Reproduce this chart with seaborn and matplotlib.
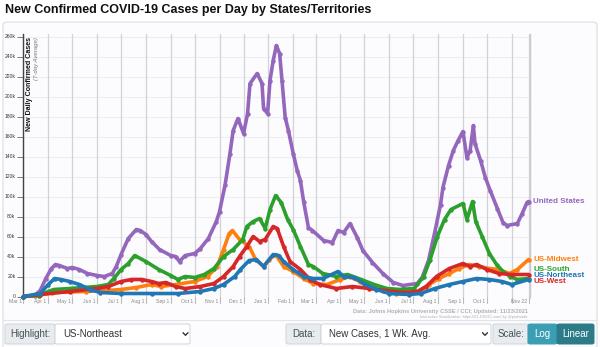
import matplotlib
matplotlib.use('Agg')
import matplotlib.pyplot as plt
import seaborn as sns
import pandas as pd
import numpy as np
from matplotlib.patches import FancyBboxPatch
from matplotlib.lines import Line2D
import matplotlib.transforms as mtrans

sns.set_theme(style='white')
plt.rcParams['font.family'] = ['Liberation Sans', 'DejaVu Sans']

# ---------------- data (7-day avg new cases, thousands) ----------------
us_dates = ["2020-03-01","2020-03-15","2020-03-22","2020-03-29","2020-04-05","2020-04-10","2020-04-15",
    "2020-04-25","2020-05-01","2020-05-10","2020-05-20","2020-06-01","2020-06-10","2020-06-20","2020-06-25",
    "2020-07-01","2020-07-10","2020-07-20","2020-07-25","2020-08-01","2020-08-08","2020-08-18","2020-09-01",
    "2020-09-07","2020-09-12","2020-09-19","2020-10-01","2020-10-08","2020-10-18","2020-10-28","2020-11-01",
    "2020-11-08","2020-11-14","2020-11-18","2020-11-24","2020-12-01","2020-12-06","2020-12-09","2020-12-18",
    "2020-12-24","2020-12-26","2020-12-31","2021-01-03","2021-01-07","2021-01-11","2021-01-15","2021-01-18",
    "2021-01-22","2021-01-26","2021-02-01","2021-02-06","2021-02-10","2021-02-14","2021-02-20","2021-02-25",
    "2021-03-11","2021-03-22","2021-03-29","2021-04-05","2021-04-13","2021-04-22","2021-04-29","2021-05-11",
    "2021-05-24","2021-06-06","2021-06-18","2021-07-06","2021-07-12","2021-07-20","2021-07-28","2021-08-04",
    "2021-08-07","2021-08-14","2021-08-20","2021-08-26","2021-09-01","2021-09-06","2021-09-10","2021-09-14",
    "2021-09-16","2021-09-23","2021-09-29","2021-10-05","2021-10-14","2021-10-21","2021-10-26","2021-11-08",
    "2021-11-14","2021-11-20","2021-11-22"]
us_vals = [0,1,6,18,28,32,31,28,29,27,23,21,20,23,30,42,58,67,66,62,55,47,41,40,35,41,43,48,58,75,85,
    112,143,166,178,163,183,213,223,213,188,183,216,236,251,243,216,179,166,143,126,116,95,69,66,
    56,54,66,64,73,59,46,34,23,14,11,13,19,36,65,92,109,131,146,156,165,139,146,171,153,136,119,106,
    88,74,71,73,83,94,95]

south_dates = ["2020-03-01","2020-03-20","2020-04-01","2020-04-08","2020-04-28","2020-06-01","2020-06-15",
    "2020-06-22","2020-07-01","2020-07-10","2020-07-18","2020-08-01","2020-08-17","2020-09-01","2020-09-10",
    "2020-09-19","2020-10-01","2020-10-13","2020-10-25","2020-11-06","2020-11-18","2020-11-30","2020-12-05",
    "2020-12-13","2020-12-21","2020-12-28","2021-01-03","2021-01-10","2021-01-17","2021-01-25","2021-02-01",
    "2021-02-10","2021-02-20","2021-02-26","2021-03-10","2021-03-27","2021-04-10","2021-04-27","2021-05-13",
    "2021-05-29","2021-06-15","2021-07-02","2021-07-14","2021-07-22","2021-07-31","2021-08-09","2021-08-17",
    "2021-09-01","2021-09-06","2021-09-13","2021-09-17","2021-09-25","2021-10-04","2021-10-13","2021-10-21",
    "2021-10-30","2021-11-08","2021-11-22"]
south_vals = [0,1,5,7,8,10,12,18,27,33,41,35,27,21,17,20,19,22,28,40,47,57,70,75,78,68,87,101,94,77,67,
    50,32,30,23,20,22,17,12,8,7,8,20,37,60,77,87,93,77,95,75,60,43,32,25,20,17,18]

midwest_dates = ["2020-03-01","2020-03-20","2020-04-06","2020-05-18","2020-06-15","2020-07-01","2020-07-20",
    "2020-08-08","2020-08-20","2020-09-07","2020-10-01","2020-10-17","2020-10-29","2020-11-06","2020-11-13",
    "2020-11-17","2020-11-26","2020-12-08","2020-12-16","2020-12-26","2021-01-02","2021-01-10","2021-01-20",
    "2021-02-01","2021-02-14","2021-02-26","2021-03-15","2021-04-01","2021-04-13","2021-04-25","2021-05-07",
    "2021-05-24","2021-06-10","2021-06-26","2021-07-08","2021-07-21","2021-08-02","2021-08-15","2021-08-27",
    "2021-09-09","2021-09-21","2021-10-04","2021-10-16","2021-10-29","2021-11-08","2021-11-22"]
midwest_vals = [0,1,4,5,6,7,9,12,10,12,15,20,30,47,63,66,57,50,37,30,37,42,30,25,18,13,12,17,20,15,10,
    6,3,3,5,12,18,23,28,32,30,28,27,23,27,37]

west_dates = ["2020-03-01","2020-03-22","2020-04-28","2020-06-01","2020-06-15","2020-07-01","2020-07-14",
    "2020-07-27","2020-08-08","2020-08-17","2020-08-26","2020-09-07","2020-09-19","2020-10-08","2020-10-25",
    "2020-11-06","2020-11-18","2020-11-26","2020-12-05","2020-12-13","2020-12-21","2020-12-28","2021-01-07",
    "2021-01-12","2021-01-20","2021-01-28","2021-02-10","2021-02-22","2021-03-06","2021-03-27","2021-04-16",
    "2021-05-07","2021-05-27","2021-06-18","2021-07-06","2021-07-17","2021-07-30","2021-08-15","2021-09-01",
    "2021-09-10","2021-09-18","2021-10-01","2021-10-16","2021-11-01","2021-11-22"]
west_vals = [0,2,5,8,10,15,17,17,15,13,14,10,8,10,13,20,30,40,50,60,55,57,70,68,50,35,27,17,12,8,10,
    8,6,4,5,10,20,28,33,30,32,27,23,22,22]

northeast_dates = ["2020-03-01","2020-03-22","2020-04-01","2020-04-09","2020-04-17","2020-04-28","2020-05-10",
    "2020-05-23","2020-06-05","2020-07-01","2020-08-08","2020-09-10","2020-10-08","2020-10-25","2020-11-06",
    "2020-11-20","2020-11-27","2020-12-08","2020-12-17","2020-12-26","2021-01-07","2021-01-14","2021-01-20",
    "2021-02-01","2021-02-14","2021-02-26","2021-03-10","2021-03-29","2021-04-05","2021-04-18","2021-04-30",
    "2021-05-16","2021-06-01","2021-06-26","2021-07-10","2021-07-28","2021-08-15","2021-09-01","2021-09-18",
    "2021-10-04","2021-10-20","2021-11-01","2021-11-22"]
northeast_vals = [0,3,12,18,17,15,12,7,4,3,3,3,5,8,12,20,27,36,37,30,42,41,35,27,20,18,18,25,20,19,13,
    7,3,2,3,8,12,15,18,17,15,12,17]

series_names = ["United States", "US-Midwest", "US-South", "US-West", "US-Northeast"]
series_colors = ["#9467bd", "#ff7f0e", "#2ca02c", "#d62728", "#1f77b4"]
label_vals = [95, 37, 27, 21, 15]  # end-label anchor values (k)
label_order = ["United States", "US-Midwest", "US-South", "US-Northeast", "US-West"]

tick_dates = ["2020-03-01","2020-04-01","2020-05-01","2020-06-01","2020-07-01","2020-08-01","2020-09-01",
    "2020-10-01","2020-11-01","2020-12-01","2021-01-01","2021-02-01","2021-03-01","2021-04-01","2021-05-01",
    "2021-06-01","2021-07-01","2021-08-01","2021-09-01","2021-10-01","2021-11-01","2021-11-22"]
tick_labels = ["Mar 1","Apr 1","May 1","Jun 1","Jul 1","Aug 1","Sep 1","Oct 1","Nov 1","Dec 1","Jan 1",
    "Feb 1","Mar 1","Apr 1","May 1","Jun 1","Jul 1","Aug 1","Sep 1","Oct 1","","Nov 22"]
y_ticks = list(range(0, 261, 20))

# ---------------- build frame ----------------
raw = {"United States": (us_dates, us_vals), "US-Midwest": (midwest_dates, midwest_vals),
       "US-South": (south_dates, south_vals), "US-West": (west_dates, west_vals),
       "US-Northeast": (northeast_dates, northeast_vals)}
frames = []
for name, (d, v) in raw.items():
    frames.append(pd.DataFrame({"date": pd.to_datetime(d), "cases": np.array(v) * 1000, "region": name}))
df = pd.concat(frames, ignore_index=True)

W, H = 600, 347
fig = plt.figure(figsize=(W / 100, H / 100), dpi=100)
fig.patch.set_facecolor('white')

def fx(x): return x / W
def fy(y): return 1 - y / H

# panel
fig.patches.append(FancyBboxPatch((fx(3), fy(352)), fx(594), (352 - 22) / H,
    boxstyle='round,pad=0,rounding_size=0.008', transform=fig.transFigure,
    fc='#fcfcfe', ec='#dddde2', lw=0.8, zorder=-10))
fig.add_artist(Line2D([fx(3), fx(597)], [fy(320), fy(320)], color='#e3e3e8', lw=0.8, zorder=-5))

fig.text(fx(5), fy(10), "New Confirmed COVID-19 Cases per Day by States/Territories",
         fontsize=9.0, fontweight='bold', color='#111111', ha='left', va='center')

ax = fig.add_axes([fx(23), fy(296.5), fx(507), 263 / H])
ax.set_zorder(5)
ax.set_facecolor('none')

palette = dict(zip(series_names, series_colors))
sns.lineplot(data=df, x="date", y="cases", hue="region", hue_order=series_names,
             palette=palette, estimator=None, sort=True, lw=2.6, marker='o', ms=3.2,
             markeredgewidth=0, legend=False, ax=ax, clip_on=False, zorder=3)

x0 = pd.Timestamp("2020-02-29 12:00")
x1 = pd.Timestamp("2021-11-23 18:00")
ax.set_xlim(x0, x1)
ax.set_ylim(0, 263000)

# grid
for t in tick_dates:
    ax.axvline(pd.Timestamp(t), color='#d2d2d8', lw=0.9, zorder=1)
for yv in y_ticks[1:]:
    ax.axhline(yv * 1000, color='#ededf2', lw=0.8, zorder=0.5)

for s in ['top', 'bottom']:
    ax.spines[s].set_visible(False)
ax.spines['left'].set_color('#444444')
ax.spines['left'].set_linewidth(1.0)
ax.spines['right'].set_color('#c8c8ce')
ax.spines['right'].set_linewidth(1.0)

ax.set_yticks([v * 1000 for v in y_ticks])
ax.set_yticklabels([("%dk" % v) if v else "0" for v in y_ticks], fontsize=3.6, color='#333333')
ax.tick_params(axis='y', length=4, width=0.6, color='#666666', pad=1.5, left=True)
ax.set_xticks([])
ax.set_xlabel("")
ax.set_ylabel("")

trans = mtrans.blended_transform_factory(ax.transData, ax.transAxes)
for t, lab in zip(tick_dates, tick_labels):
    ax.add_line(Line2D([pd.Timestamp(t)] * 2, [0, -0.024], transform=trans, color='#bbbbbb',
                       lw=0.8, clip_on=False))
    if lab:
        ax.text(pd.Timestamp(t) - pd.Timedelta(days=2), -0.019, lab, transform=trans, ha='right',
                va='center', fontsize=3.7, color='#888888')

ax.text(0.012, 0.988, "New Daily Confirmed Cases", transform=ax.transAxes, rotation=90,
        ha='center', va='top', fontsize=5.1, fontweight='bold', color='#111111')
ax.text(0.027, 0.988, "(7-day Average)", transform=ax.transAxes, rotation=90,
        ha='center', va='top', fontsize=4.3, color='#777777', style='italic')

end_trans = mtrans.blended_transform_factory(ax.transAxes, ax.transData)
for name, yv in zip(label_order, label_vals):
    ax.text(1.006, yv * 1000, name, transform=end_trans, ha='left', va='center',
            fontsize=5.8, fontweight='bold', color=palette[name], clip_on=False)

fig.text(fx(528), fy(311), "Data: Johns Hopkins University CSSE / CCI; Updated: 11/23/2021",
         ha='right', va='center', fontsize=4.1, fontweight='bold', color='#b0b0b6')
fig.text(fx(528), fy(317.3), "Interactive Visualization: https://91-DIVOC.com/ by @profwade",
         ha='right', va='center', fontsize=2.8, color='#b0b0b6')

# controls
def box(xa, ya, xb, yb, fc, ec, r=0.004):
    fig.patches.append(FancyBboxPatch((fx(xa), fy(yb)), fx(xb - xa), (yb - ya) / H,
        boxstyle='round,pad=0,rounding_size=%f' % r, transform=fig.transFigure,
        fc=fc, ec=ec, lw=0.7, zorder=1))

def chevron(xc, yc):
    fig.add_artist(Line2D([fx(xc - 2.5), fx(xc), fx(xc + 2.5)], [fy(yc - 1.3), fy(yc + 1.3), fy(yc - 1.3)],
                          color='#333333', lw=1.0))

box(5, 324, 55, 344, '#e9ecef', '#ced4da')
box(55, 324, 190, 344, 'white', '#ced4da')
fig.text(fx(30), fy(334), "Highlight:", ha='center', va='center', fontsize=7, color='#495057')
fig.text(fx(63), fy(334), "US-Northeast", ha='left', va='center', fontsize=7, color='#333333')
chevron(185.5, 334)

box(286, 324, 321, 344, '#e9ecef', '#ced4da')
box(321, 324, 491, 344, 'white', '#ced4da')
fig.text(fx(303.5), fy(334), "Data:", ha='center', va='center', fontsize=7, color='#495057')
fig.text(fx(329), fy(334), "New Cases, 1 Wk. Avg.", ha='left', va='center', fontsize=7, color='#333333')
chevron(485, 334)

box(493, 324, 528, 344, '#e9ecef', '#ced4da')
fig.text(fx(510.5), fy(334), "Scale:", ha='center', va='center', fontsize=7, color='#495057')
box(528, 324, 557, 344, '#3b9fb3', '#3b9fb3')
box(557, 324, 594, 344, '#2c7b88', '#2c7b88')
fig.text(fx(542.5), fy(334), "Log", ha='center', va='center', fontsize=7, color='white')
fig.text(fx(575.5), fy(334), "Linear", ha='center', va='center', fontsize=7, color='white')

fig.savefig("out.png", dpi=100, facecolor='white')
